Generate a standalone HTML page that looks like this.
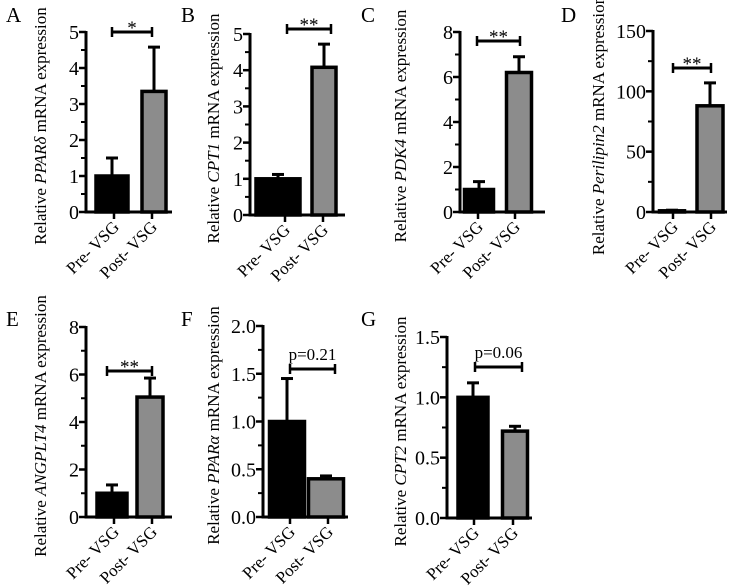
<!DOCTYPE html>
<html><head><meta charset="utf-8"><style>
html,body{margin:0;padding:0;background:#fff;}
svg{display:block;font-family:"Liberation Serif","DejaVu Serif",serif;}
</style></head><body>
<svg id="fig" width="729" height="586" viewBox="0 0 729 586"></svg>
<script>
const panelIds=["A","B","C","D","E","F","G"];
const categories=["Pre- VSG","Post- VSG"];
const geneNames=["PPARδ","CPT1","PDK4","Perilipin2","ANGPLT4","PPARα","CPT2"];
const preValues=[1.0,1.0,1.0,1.0,1.0,1.0,1.0];
const preErrors=[1.5,1.12,1.35,1.5,1.35,1.45,1.12];
const postValues=[3.35,4.08,6.2,88,5.05,0.4,0.72];
const postErrors=[4.58,4.72,6.9,107,5.85,0.43,0.76];
const yMaxes=[5,5,8,150,8,2.0,1.5];
const ySteps=[1,1,2,50,2,0.5,0.5];
const tickDecimals=[0,0,0,0,0,1,1];
const sigLabels=["*","**","**","**","**","p=0.21","p=0.06"];

// layout (pixel geometry, not data)
const layout=[
 {ax:86,y0:212,yt:32,pc:112,pw:32,qc:154,qw:24,t1:114,t2:152,end:172,by:32,bx1:112,bx2:152,tx:40,lx:6,ly:22},
 {ax:250,y0:215,yt:34,pc:278,pw:44,qc:324,qw:24,t1:285,t2:323,end:345,by:29,bx1:287,bx2:331,tx:213,lx:181,ly:22},
 {ax:460,y0:212,yt:32,pc:479,pw:29,qc:519,qw:25,t1:478,t2:515,end:545,by:41,bx1:477,bx2:520,tx:400,lx:361,ly:22},
 {ax:653,y0:212,yt:31,pc:672,pw:25,qc:710,qw:26,t1:673,t2:711,end:727,by:68,bx1:673,bx2:711,tx:598,lx:561,ly:22},
 {ax:86,y0:517,yt:327,pc:112,pw:30,qc:150,qw:26,t1:114,t2:152,end:172,by:371,bx1:107,bx2:152,tx:40,lx:6,ly:326},
 {ax:263,y0:517,yt:326,pc:287,pw:35,qc:326,qw:35,t1:290,t2:328,end:348,by:369,bx1:290,bx2:335,tx:213,lx:181,ly:326},
 {ax:447,y0:518,yt:337,pc:473,pw:30,qc:515,qw:25,t1:474,t2:513,end:532,by:367,bx1:475,bx2:522,tx:400,lx:361,ly:326}
];
const NS="http://www.w3.org/2000/svg";
const svg=document.getElementById("fig");
function mk(tag,attrs,parent,txt){const e=document.createElementNS(NS,tag);for(const k in attrs)e.setAttribute(k,attrs[k]);if(txt!==undefined)e.textContent=txt;parent.appendChild(e);return e;}

for(let i=0;i<panelIds.length;i++){
 const L=layout[i];
 const g=mk("g",{},svg);
 
 
 const yScale=v=>L.y0-(v/yMaxes[i])*(L.y0-L.yt);
 const pl=mk("text",{x:L.lx,y:L.ly,"font-size":21},g,panelIds[i]);
 
 
 const cy=(L.y0+L.yt)/2+4;
 const tt=mk("text",{x:0,y:0,"font-size":17,"text-anchor":"middle",transform:`translate(${L.tx+6},${cy}) rotate(-90)`},g);
 
 
 mk("tspan",{},tt,"Relative ");
 mk("tspan",{"font-style":"italic"},tt,geneNames[i]);
 mk("tspan",{},tt," mRNA expression");
 const vals=[preValues[i],postValues[i]],errs=[preErrors[i],postErrors[i]];
 const cs=[L.pc,L.qc],ws=[L.pw,L.qw],fills=["#000","#8c8c8c"];
 for(let b=0;b<2;b++){
  const yv=yScale(vals[b]),ye=yScale(errs[b]);
  const el=mk("line",{x1:cs[b],x2:cs[b],y1:yv,y2:ye,stroke:"#000","stroke-width":3},g);
  
  
  const cap=mk("line",{x1:cs[b]-6,x2:cs[b]+6,y1:ye,y2:ye,stroke:"#000","stroke-width":3},g);
  
  
  const h=Math.max(L.y0-yv,1);
  const r=mk("rect",{x:cs[b]-ws[b]/2,y:L.y0-h,width:ws[b],height:h,fill:fills[b],stroke:"#000","stroke-width":3.5},g);
  
  
 }
 const ya=mk("line",{x1:L.ax,x2:L.ax,y1:L.yt-1,y2:L.y0+1.5,stroke:"#000","stroke-width":3},g);
 
 
 const xa=mk("line",{x1:L.ax-1.5,x2:L.end,y1:L.y0,y2:L.y0,stroke:"#000","stroke-width":3},g);
 
 
 const n=Math.round(yMaxes[i]/ySteps[i]);
 for(let k=0;k<=n;k++){
  const v=k*ySteps[i],y=yScale(v);
  mk("line",{x1:L.ax-7,x2:L.ax,y1:y,y2:y,stroke:"#000","stroke-width":2.5},g);
  const tl=mk("text",{x:L.ax-7,y:y+7,"font-size":20,"text-anchor":"end"},g,v.toFixed(tickDecimals[i]));
  
  
  if(k<n){const ym=yScale(v+ySteps[i]/2);mk("line",{x1:L.ax-5,x2:L.ax,y1:ym,y2:ym,stroke:"#000","stroke-width":2},g);}
 }
 const tx=[L.t1,L.t2];
 for(let c=0;c<2;c++){
  mk("line",{x1:tx[c],x2:tx[c],y1:L.y0,y2:L.y0+7,stroke:"#000","stroke-width":2.5},g);
  const cl=mk("text",{x:0,y:0,"font-size":17,"text-anchor":"end",transform:`translate(${tx[c]+6},${L.y0+16}) rotate(-45)`},g,categories[c]);
  
  
 }
 const br=mk("g",{},g);
 
 
 mk("line",{x1:L.bx1,x2:L.bx2,y1:L.by,y2:L.by,stroke:"#000","stroke-width":3},br);
 mk("line",{x1:L.bx1,x2:L.bx1,y1:L.by-5,y2:L.by+5,stroke:"#000","stroke-width":2.5},br);
 mk("line",{x1:L.bx2,x2:L.bx2,y1:L.by-5,y2:L.by+5,stroke:"#000","stroke-width":2.5},br);
 const isP=sigLabels[i].startsWith("p");
 const sl=mk("text",{x:(L.bx1+L.bx2)/2,y:isP?L.by-9:L.by+2,"font-size":isP?17:19,"text-anchor":"middle"},g,sigLabels[i]);
 
 
}
</script>
</body></html>
